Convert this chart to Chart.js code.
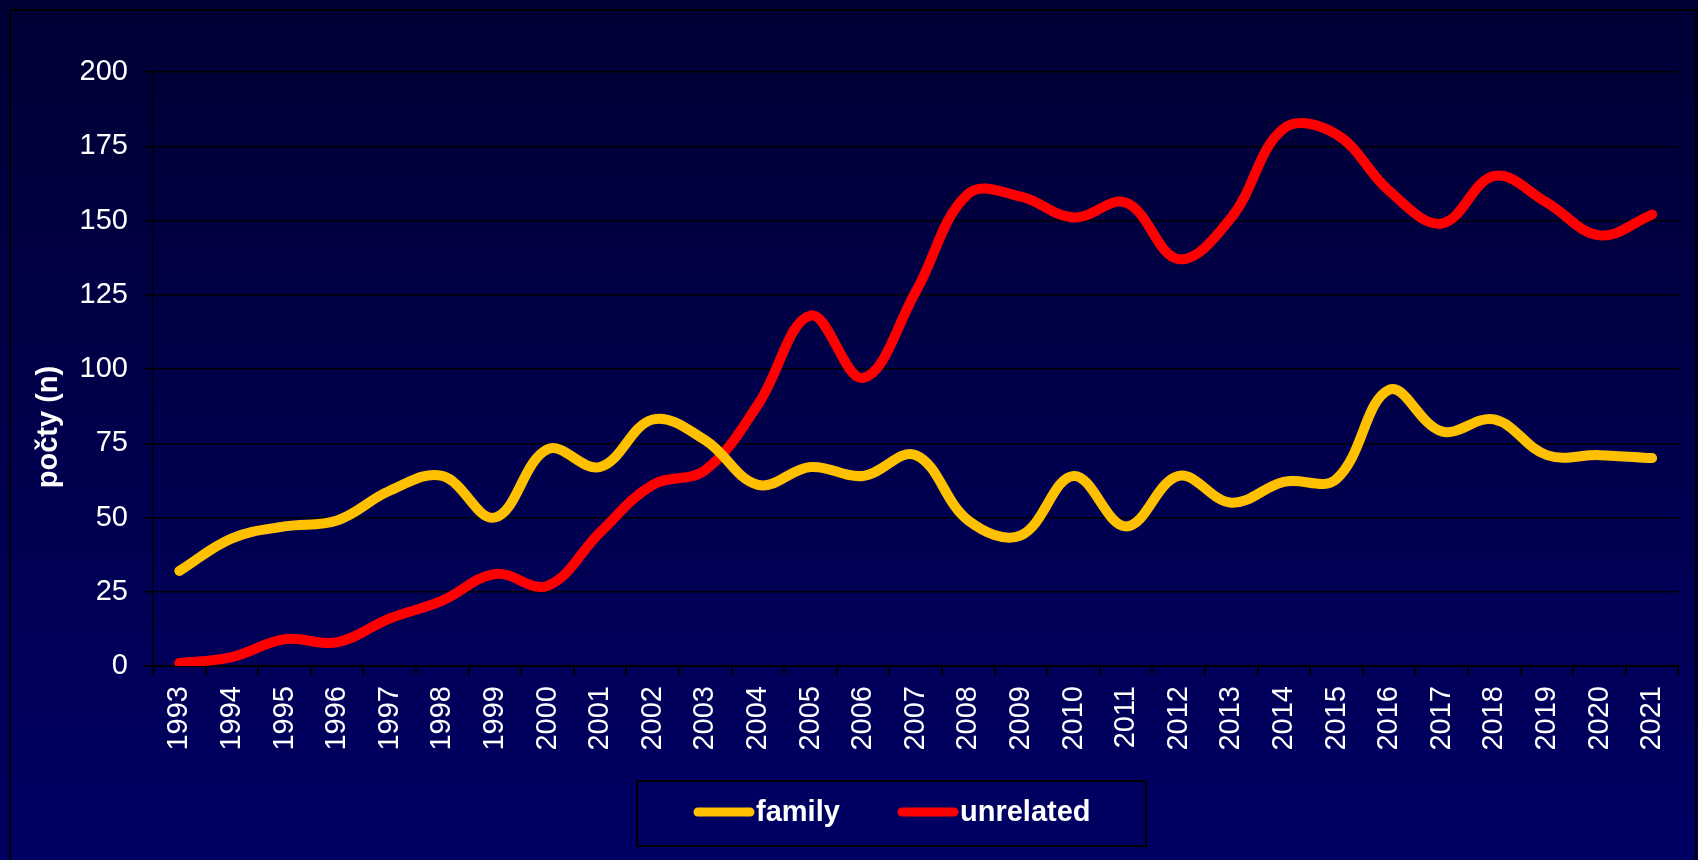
<!DOCTYPE html>
<html>
<head>
<meta charset="utf-8">
<script src="https://cdn.jsdelivr.net/npm/chart.js@4/dist/chart.umd.min.js"></script>
<style>
  html, body { margin: 0; padding: 0; background: #000050; }
  #wrap { width: 1698px; height: 860px; }
</style>
</head>
<body>
<div id="wrap"><canvas id="countChart" width="1698" height="860"></canvas></div>
<script>
// Roky a počty
const years = ['1993', '1994', '1995', '1996', '1997', '1998', '1999', '2000', '2001', '2002',
    '2003', '2004', '2005', '2006', '2007', '2008', '2009', '2010', '2011', '2012',
    '2013', '2014', '2015', '2016', '2017', '2018', '2019', '2020', '2021'];
const family = [32, 43, 47, 49, 59, 64, 50, 73, 67, 83, 76, 61, 67, 64, 71, 49, 44, 64, 47, 64,
    55, 62, 63, 93, 79, 83, 71, 71, 70];
const unrelated = [1, 3, 9, 8, 16, 22, 31, 27, 45, 61, 66, 88, 118, 97, 126, 159, 158, 151, 156, 137,
    151, 181, 179, 160, 149, 165, 156, 145, 152];
const yTicks = [0, 25, 50, 75, 100, 125, 150, 175, 200];
const yTitle = 'počty (n)';

const FONT = 'Liberation Sans, Arial, sans-serif';

// pozadí s přechodem + rámeček + popisek osy y
const backdrop = {
    id: 'backdrop',
    beforeDraw(chart) {
        const c = chart.ctx;
        const g = c.createLinearGradient(0, 0, 0, chart.height);
        g.addColorStop(0, '#000034');
        g.addColorStop(1, '#000064');
        c.save();
        c.fillStyle = g;
        c.fillRect(0, 0, chart.width, chart.height);
        c.strokeStyle = '#000000';
        c.lineWidth = 2;
        c.strokeRect(10, 10, 1686, 900);
        // titulek osy y (vycentrovany na celou vysku)
        c.translate(49, 427);
        c.rotate(-Math.PI / 2);
        c.fillStyle = '#ffffff';
        c.font = 'bold 29px ' + FONT;
        c.textAlign = 'center';
        c.textBaseline = 'middle';
        c.fillText(yTitle, 0, 0);
        c.restore();
    }
};

// legenda v rámečku dole
const boxLegend = {
    id: 'boxLegend',
    afterDraw(chart) {
        const c = chart.ctx;
        c.save();
        c.strokeStyle = '#000000';
        c.lineWidth = 2;
        c.strokeRect(637, 781, 509, 65);
        c.font = 'bold 29px ' + FONT;
        c.textBaseline = 'middle';
        c.fillStyle = '#ffffff';
        const starts = [694, 898];
        chart.data.datasets.forEach((ds, i) => {
            const x = starts[i];
            c.strokeStyle = ds.borderColor;
            c.lineWidth = 9;
            c.lineCap = 'round';
            c.beginPath();
            c.moveTo(x + 4, 812);
            c.lineTo(x + 56, 812);
            c.stroke();
            c.fillText(ds.label, x + 62, 813);
        });
        c.restore();
    }
};

const ctx = document.getElementById('countChart').getContext('2d');
const countChart = new Chart(ctx, {
    type: 'line',
    data: {
        labels: years,
        datasets: [
            {
                label: 'family',
                data: family,
                borderColor: '#ffc000',
                borderWidth: 10,
                borderCapStyle: 'round',
                borderJoinStyle: 'round',
                pointRadius: 0,
                tension: 0.38,
                fill: false,
            },
            {
                label: 'unrelated',
                data: unrelated,
                borderColor: '#ff0000',
                borderWidth: 10,
                borderCapStyle: 'round',
                borderJoinStyle: 'round',
                pointRadius: 0,
                tension: 0.38,
                fill: false,
            }
        ]
    },
    options: {
        responsive: false,
        animation: false,
        layout: { padding: { top: 72, right: 5, bottom: 94, left: 0 } },
        plugins: {
            legend: { display: false },
            tooltip: { enabled: false }
        },
        scales: {
            x: {
                offset: true,
                grid: {
                    offset: true,
                    drawOnChartArea: false,
                    color: '#000000',
                    tickLength: 9,
                    lineWidth: 2
                },
                border: { color: '#000000', width: 2 },
                ticks: {
                    color: '#ffffff',
                    font: { family: FONT, size: 29 },
                    minRotation: 90,
                    maxRotation: 90,
                    autoSkip: false,
                    padding: 11
                },
                afterFit(scale) { scale.height = 100; }
            },
            y: {
                min: 0,
                max: 200,
                afterBuildTicks(scale) { scale.ticks = yTicks.map(v => ({ value: v })); },
                grid: { color: '#000000', tickLength: 9, lineWidth: 1.5 },
                border: { color: '#000000', width: 1.5 },
                ticks: {
                    color: '#ffffff',
                    font: { family: FONT, size: 29 },
                    padding: 16
                },
                afterFit(scale) { scale.width = 153; }
            }
        }
    },
    plugins: [backdrop, boxLegend]
});
</script>
</body>
</html>
